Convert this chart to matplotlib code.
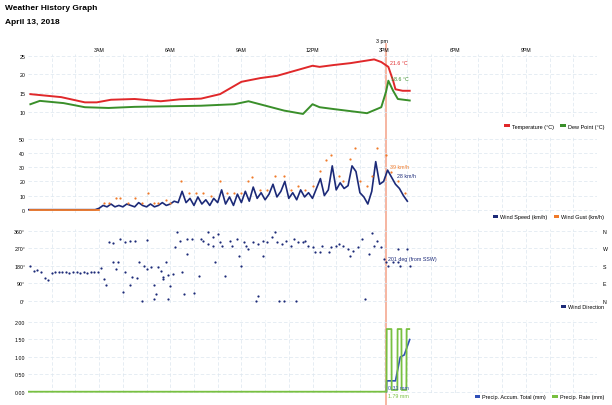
import numpy as np
import matplotlib
matplotlib.use("Agg")
import matplotlib.pyplot as plt
from matplotlib.patches import Patch
from matplotlib.lines import Line2D

plt.rcParams['font.family'] = ['Liberation Sans', 'DejaVu Sans']

# ---- data (hours after midnight) ----
temp_t = [0.1, 1.4, 2.4, 2.9, 3.5, 4.5, 5.6, 6.4, 7.3, 8.1, 9.0, 9.8, 10.5, 11.5,
          12.0, 12.3, 12.9, 13.6, 14.6, 14.9, 15.2, 15.4, 15.5, 15.8, 16.1]
temp_c = [14.7, 13.9, 12.5, 12.5, 13.2, 13.4, 12.8, 13.3, 13.5, 14.7, 18.0, 19.0, 19.6, 21.4,
          22.3, 22.0, 22.5, 23.0, 24.0, 23.3, 22.0, 18.3, 16.0, 15.6, 15.6]

dew_t = [0.1, 0.5, 1.5, 2.4, 3.4, 4.5, 7.3, 8.7, 9.3, 9.9, 10.8, 11.6, 12.0, 12.3,
         12.9, 14.3, 14.9, 15.1, 15.2, 15.4, 15.6, 16.1]
dew_c = [12.0, 12.9, 12.3, 11.2, 11.0, 11.3, 11.6, 12.0, 12.8, 11.8, 10.3, 9.4, 12.0, 11.2,
         10.7, 9.6, 11.2, 15.3, 18.3, 15.6, 13.4, 13.0]

# wind speed every 10 minutes, 00:00 to 16:00
wind_speed = [0, 0, 0, 0, 0, 0, 0, 0, 0, 0, 0, 0, 0, 0, 0, 0, 0, 0,
              1, 3, 2, 4, 2, 3, 2, 4, 3, 2, 5, 3, 2, 4, 2, 3, 5, 3,
              4, 6, 5, 13, 5, 8, 3, 9, 4, 7, 3, 8, 5, 14, 4, 9, 3, 11,
              5, 13, 6, 16, 8, 12, 7, 11, 18, 9, 13, 20, 8, 12, 7, 14, 9, 12,
              8, 15, 22, 10, 14, 31, 14, 19, 15, 17, 31, 27, 12, 9, 4, 13, 34, 18,
              20, 28, 23, 18, 15, 10, 6]
wind_t = np.arange(len(wind_speed)) / 6.0

gust_t = [3.2, 3.4, 3.7, 3.9, 4.2, 4.5, 4.8, 5.05, 5.3, 5.5, 5.8, 6.0, 6.45, 6.8, 7.1,
          7.4, 7.7, 8.1, 8.4, 8.7, 9.0, 9.3, 9.45, 9.8, 10.1, 10.4, 10.8, 11.1, 11.4,
          11.7, 12.0, 12.3, 12.55, 12.8, 13.1, 13.3, 13.6, 13.8, 14.0, 14.3, 14.5,
          14.7, 15.1, 15.3, 15.6, 15.9]
gust_v = [5, 5, 8, 8, 5, 8, 5, 12, 5, 5, 7, 5, 20, 12, 12,
          12, 10, 20, 12, 12, 12, 20, 23, 14, 14, 24, 24, 14, 17,
          14, 17, 27.6, 35, 39, 24, 20, 36, 44, 20, 17, 24,
          44, 39, 27, 20, 12]

dir_t = [0.1, 0.25, 0.4, 0.55, 0.7, 0.85, 1.0, 1.15, 1.3, 1.45, 1.6, 1.75, 1.9, 2.05,
         2.2, 2.35, 2.5, 2.65, 2.8, 2.95,
         3.1, 3.2, 3.3, 3.4, 3.6, 3.6, 3.8, 3.7, 3.9, 4.0, 4.1, 4.1, 4.3, 4.3, 4.4, 4.5,
         4.6, 4.7, 4.8, 4.9, 5.0, 5.0, 5.2, 5.3, 5.3, 5.4, 5.5, 5.6, 5.7, 5.7, 5.8, 5.9,
         5.9, 6.0, 6.1, 6.2, 6.3, 6.4, 6.5, 6.6, 6.7, 6.7, 6.9, 7.0, 7.2, 7.3, 7.4, 7.6,
         7.6, 7.8, 7.8, 7.9, 8.0, 8.1, 8.2, 8.3, 8.5, 8.6, 8.8, 8.9, 9.0, 9.1, 9.2, 9.3,
         9.5, 9.6, 9.7, 9.7, 9.9, 9.9, 10.1, 10.3, 10.4, 10.5, 10.6, 10.7, 10.8, 10.9,
         11.1, 11.2, 11.3, 11.4, 11.6, 11.7, 11.8, 12.0, 12.1, 12.3, 12.4, 12.7, 12.8,
         13.0, 13.1, 13.3, 13.5, 13.6, 13.7, 13.9, 14.1, 14.2, 14.4, 14.5, 14.6, 14.7,
         14.9, 15.0, 15.1, 15.2, 15.4, 15.6, 15.6, 15.7, 16.0, 16.1]
dir_deg = [180, 154, 160, 150, 115, 108, 140, 146, 150, 145, 148, 140, 146, 150,
           144, 148, 142, 146, 150, 148,
           167, 112, 81, 302, 297, 199, 199, 163, 317, 46, 148, 302, 309, 81, 122, 309,
           117, 201, 0, 180, 163, 314, 173, 81, 9, 34, 173, 154, 112, 122, 199, 132,
           9, 77, 137, 276, 355, 309, 148, 34, 240, 317, 317, 40, 129, 317, 309, 352,
           292, 327, 283, 199, 343, 302, 283, 129, 309, 283, 317, 231, 180, 302, 283, 266,
           302, 0, 26, 292, 231, 309, 302, 327, 352, 302, 0, 292, 0, 309,
           283, 317, 0, 302, 302, 309, 283, 276, 250, 250, 283, 250, 276,
           283, 292, 283, 266, 230, 257, 276, 317, 9, 240, 348, 283, 309,
           276, 214, 201, 180, 199, 201, 266, 180, 266, 180]

rate_t = [0, 15.12, 15.13, 15.33, 15.34, 15.58, 15.59, 15.75, 15.76, 15.96, 15.97, 16.08]
rate_v = [0, 0, 1.79, 1.79, 0.05, 0.05, 1.79, 1.79, 0.05, 0.05, 1.79, 1.79]
accum_t = [15.12, 15.13, 15.5, 15.7, 15.87, 16.1]
accum_v = [0, 0.31, 0.31, 0.99, 1.05, 1.49]

hour_ticks = [3, 6, 9, 12, 15, 18, 21]
hour_labels = ['3AM', '6AM', '9AM', '12PM', '3PM', '6PM', '9PM']
cursor_h = 15.12

# ---- layout helpers (pixel based) ----
W, H = 612, 406
fig = plt.figure(figsize=(W / 100, H / 100), dpi=100)
X0, X1 = 28, 597

def panel(top, bottom):
    ax = fig.add_axes([X0 / W, 1 - bottom / H, (X1 - X0) / W, (bottom - top) / H])
    ax.patch.set_visible(False)
    return ax

grid_c = '#dce6ef'

def style(ax, yticks, ylabels, ylim):
    ax.set_xlim(0, 24)
    ax.set_ylim(*ylim)
    ax.set_yticks(yticks)
    ax.set_yticklabels(ylabels, fontsize=3.8)
    ax.set_xticks(np.arange(1, 24))
    ax.tick_params(length=0, pad=2, labelbottom=False)
    for s in ax.spines.values():
        s.set_visible(False)
    ax.grid(True, color=grid_c, lw=0.5, ls=(0, (5, 3)))
    ax.set_axisbelow(True)

def legend(ax, handles, labels, ypx):
    ax.legend(handles, labels, loc='center right', ncol=len(handles),
              bbox_to_anchor=(604 / W, 1 - ypx / H), bbox_transform=fig.transFigure,
              frameon=False, fontsize=4, handlelength=1.0, handleheight=0.6,
              handletextpad=0.3, columnspacing=1.2, borderaxespad=0, borderpad=0)

def sq(c):
    return Patch(facecolor=c, edgecolor='none')

red, green = '#e0282a', '#3a8f2a'
navy, orange = '#1c2a78', '#f07a2a'
prate, paccum = '#78c040', '#3050b8'

# cursor line across all panels (drawn behind the transparent axes)
cx = X0 + cursor_h / 24 * (X1 - X0)
fig.add_artist(Line2D([cx / W, cx / W], [1 - 45 / H, 0], transform=fig.transFigure,
                      color='#f6b09a', lw=1.3, zorder=-1))
fig.text((cx - 4) / W, 1 - 41 / H, '3 pm', fontsize=3.8, ha='center', va='center')

# title
fig.text(5 / W, 1 - 9 / H, 'Weather History Graph', fontsize=6, fontweight='bold', va='center')
fig.text(5 / W, 1 - 22 / H, 'April 13, 2018', fontsize=6, fontweight='bold', va='center')

# panel 1: temperature / dew point
ax1 = panel(54.8, 118.3)
style(ax1, [10, 15, 20, 25], ['10', '15', '20', '25'], (8.5, 25.5))
ax1.plot(temp_t, temp_c, color=red, lw=1.4)
ax1.plot(dew_t, dew_c, color=green, lw=1.4)
for h, lab in zip(hour_ticks, hour_labels):
    ax1.text(h, 1 + 4 / 63.5, lab, transform=ax1.get_xaxis_transform(),
             ha='center', va='center', fontsize=3.8)
ax1.text(15.28, 23.3, '21.6 °C', color=red, fontsize=3.8, va='center')
ax1.text(15.32, 19.0, '18.6 °C', color=green, fontsize=3.8, va='center')
legend(ax1, [sq(red), sq(green)], ['Temperature (°C)', 'Dew Point (°C)'], 127)

# panel 2: wind speed / gust
ax2 = panel(137.2, 213.5)
style(ax2, [0, 10, 20, 30, 40, 50], ['0', '10', '20', '30', '40', '50'], (-2, 52))
ax2.plot(wind_t, wind_speed, color=navy, lw=1.2)
ax2.plot([0.1, 3.0], [0, 0], color=orange, lw=1.3)
ax2.plot(gust_t, gust_v, 'o', color=orange, ms=1.6, mew=0)
ax2.text(15.28, 30.9, '39 km/h', color=orange, fontsize=3.8, va='center')
ax2.text(15.55, 24.5, '28 km/h', color=navy, fontsize=3.8, va='center')
legend(ax2, [sq(navy), sq(orange)], ['Wind Speed (km/h)', 'Wind Gust (km/h)'], 218)

# panel 3: wind direction
ax3 = panel(229.8, 303.6)
style(ax3, [0, 90, 180, 270, 360], ['0°', '90°', '180°', '270°', '360°'], (-10, 370))
ax3.plot(dir_t, dir_deg, 'o', color=navy, ms=1.6, mew=0)
ax3.text(15.2, 218, '201 deg (from SSW)', color=navy, fontsize=3.8, va='center')
ax3r = ax3.twinx()
ax3r.patch.set_visible(False)
ax3r.set_ylim(-10, 370)
ax3r.set_yticks([0, 90, 180, 270, 360])
ax3r.set_yticklabels(['N', 'E', 'S', 'W', 'N'], fontsize=3.8)
ax3r.tick_params(length=0, pad=4)
for s in ax3r.spines.values():
    s.set_visible(False)
legend(ax3, [sq(navy)], ['Wind Direction'], 308)

# panel 4: precipitation
ax4 = panel(320.95, 394.45)
style(ax4, [0, 0.5, 1, 1.5, 2], ['0.00', '0.50', '1.00', '1.50', '2.00'], (-0.05, 2.05))
ax4.plot(accum_t, accum_v, color=paccum, lw=1.2)
ax4.plot(rate_t, rate_v, color=prate, lw=1.3)
ax4.text(15.2, 0.11, '0.31 mm', color=paccum, fontsize=3.8, va='center')
ax4.text(15.2, -0.12, '1.79 mm', color=prate, fontsize=3.8, va='center', clip_on=False)
legend(ax4, [sq(paccum), sq(prate)], ['Precip. Accum. Total (mm)', 'Precip. Rate (mm)'], 398)

fig.savefig('out.png', dpi=100)
